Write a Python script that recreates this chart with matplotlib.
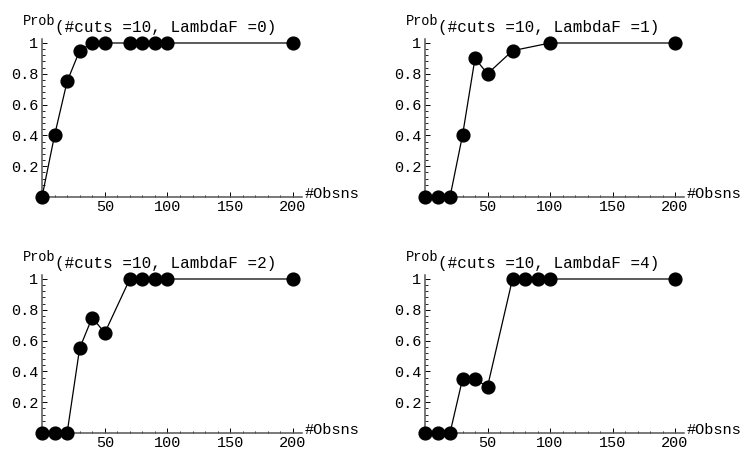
import matplotlib
matplotlib.use("Agg")
import matplotlib.pyplot as plt
from matplotlib.ticker import FixedLocator

plt.rcParams['font.family'] = ['Liberation Mono', 'DejaVu Sans Mono']

# Data
obs_full = [0, 10, 20, 30, 40, 50, 70, 80, 90, 100, 200]
obs_short = [0, 10, 20, 30, 40, 50, 70, 100, 200]
prob_l0 = [0, 0.4, 0.75, 0.95, 1, 1, 1, 1, 1, 1, 1]
prob_l1 = [0, 0, 0, 0.4, 0.9, 0.8, 0.95, 1, 1]
prob_l2 = [0, 0, 0, 0.55, 0.75, 0.65, 1, 1, 1, 1, 1]
prob_l4 = [0, 0, 0, 0.35, 0.35, 0.3, 1, 1, 1, 1, 1]
lambdas = [0, 1, 2, 4]
n_cuts = 10
panels = [(obs_full, prob_l0), (obs_short, prob_l1), (obs_full, prob_l2), (obs_full, prob_l4)]

x_ticks = [50, 100, 150, 200]
x_minor = [v for v in range(10, 210, 10) if v not in x_ticks]
y_ticks = [0.2, 0.4, 0.6, 0.8, 1.0]
y_ticklabels = ['0.2', '0.4', '0.6', '0.8', '1']
y_minor = [round(0.04 * k, 2) for k in range(1, 26) if round(0.04 * k, 2) not in y_ticks]

W, H = 744, 449
fig = plt.figure(figsize=(W / 100, H / 100), dpi=100)

# layout in pixels: (x-origin px, px per unit x), (y-origin px, px per unit y)
cols = [(42, 1.255), (425, 1.25)]
rows = [197, 433]
ypx = 154
xmin, xmax = -4, 207
ymin, ymax = 0, 1.025

FS = 11
for i, (xs, ys) in enumerate(panels):
    r, c = divmod(i, 2)
    x0, sx = cols[c]
    y0 = rows[r]
    left = x0 + xmin * sx
    width = (xmax - xmin) * sx
    height = (ymax - ymin) * ypx
    ax = fig.add_axes([left / W, (H - y0) / H, width / W, height / H])
    ax.set_xlim(xmin, xmax)
    ax.set_ylim(ymin, ymax)
    ax.plot(xs, ys, color='black', lw=0.9, marker='o', ms=9.2,
            markerfacecolor='black', markeredgecolor='black', clip_on=False, zorder=3)
    for s in ['top', 'right']:
        ax.spines[s].set_visible(False)
    ax.spines['left'].set_position(('data', 0))
    ax.spines['bottom'].set_position(('data', 0))
    for s in ['left', 'bottom']:
        ax.spines[s].set_color('#555555')
        ax.spines[s].set_linewidth(1.1)
    ax.xaxis.set_major_locator(FixedLocator(x_ticks))
    ax.xaxis.set_minor_locator(FixedLocator(x_minor))
    ax.set_xticklabels([str(v) for v in x_ticks])
    ax.yaxis.set_major_locator(FixedLocator(y_ticks))
    ax.yaxis.set_minor_locator(FixedLocator(y_minor))
    ax.set_yticklabels(y_ticklabels)
    ax.tick_params(which='major', direction='in', length=3.5, width=0.7, labelsize=FS, pad=2.5, color='black')
    ax.tick_params(which='minor', direction='in', length=1.8, width=0.6, color='black')
    ax.annotate('Prob', xy=(0, 1), xycoords=('data', 'axes fraction'),
                xytext=(-19 * 0.72, 18 * 0.72), textcoords='offset points',
                ha='left', va='center', fontsize=9.8)
    ax.annotate(f'(#cuts ={n_cuts}, LambdaF ={lambdas[i]})', xy=(0, 1),
                xycoords=('data', 'axes fraction'),
                xytext=(13 * 0.72, 12 * 0.72), textcoords='offset points',
                ha='left', va='center', fontsize=11.5)
    ax.annotate('#Obsns', xy=(1, 0), xycoords=('axes fraction', 'data'),
                xytext=(3 * 0.72, 3 * 0.72), textcoords='offset points',
                ha='left', va='center', fontsize=FS)

fig.savefig('out.png', dpi=100)
